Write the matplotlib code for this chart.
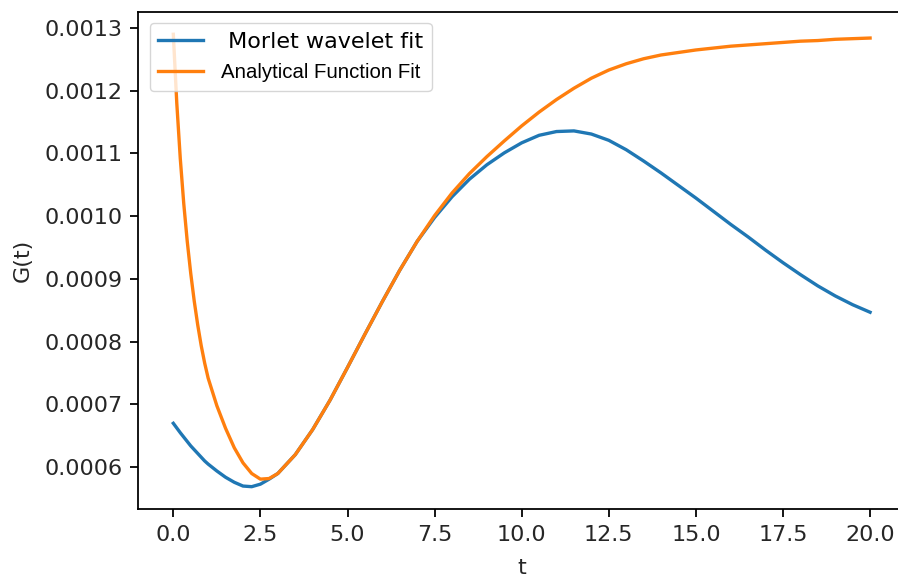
import matplotlib
matplotlib.use("Agg")
import matplotlib.pyplot as plt

# Sample times (denser near the sharp drop at the start)
t = [0.0, 0.1, 0.2, 0.3, 0.4, 0.5, 0.6, 0.7, 0.8, 0.9, 1.0,
     1.25, 1.5, 1.75, 2.0, 2.25, 2.5, 2.75, 3.0,
     3.5, 4.0, 4.5, 5.0, 5.5, 6.0, 6.5, 7.0, 7.5, 8.0, 8.5,
     9.0, 9.5, 10.0, 10.5, 11.0, 11.5, 12.0, 12.5, 13.0, 13.5, 14.0, 14.5,
     15.0, 15.5, 16.0, 16.5, 17.0, 17.5, 18.0, 18.5, 19.0, 19.5, 20.0]

# Morlet wavelet fit of G(t)
g_morlet = [0.000670, 0.0006625, 0.000655, 0.000648, 0.000641, 0.000634,
            0.000628, 0.000622, 0.000616, 0.000610, 0.000605,
            0.000594, 0.000584, 0.000576, 0.000570, 0.000569, 0.000573,
            0.000581, 0.000590,
            0.000620, 0.000660, 0.000707, 0.000759, 0.000812, 0.000864,
            0.000914, 0.000960, 0.000998, 0.001031, 0.001059,
            0.001082, 0.001101, 0.001117, 0.001129, 0.001135, 0.001136,
            0.001131, 0.001121, 0.001106, 0.001088, 0.001069, 0.001049,
            0.001029, 0.001008, 0.000987, 0.000967, 0.000946, 0.000926,
            0.000907, 0.000889, 0.000873, 0.000859, 0.000847]

# Analytical function fit of G(t)
g_analytic = [0.001290, 0.001180, 0.001092, 0.001020, 0.000960, 0.000909,
              0.000865, 0.000827, 0.000794, 0.000766, 0.000742,
              0.000698, 0.000662, 0.000631, 0.000607, 0.000590, 0.000581,
              0.000582, 0.000590,
              0.000620, 0.000660, 0.000707, 0.000759, 0.000812, 0.000864,
              0.000914, 0.000960, 0.001001, 0.001037, 0.001068,
              0.001095, 0.001120, 0.001144, 0.001166, 0.001186, 0.001204,
              0.001220, 0.001233, 0.001243, 0.001251, 0.001257, 0.001261,
              0.001265, 0.001268, 0.001271, 0.001273, 0.001275, 0.001277,
              0.001279, 0.001280, 0.001282, 0.001283, 0.001284]

labels = [" Morlet wavelet fit", "Analytical Function Fit"]

S = 1.6  # overall scale of text and lines
plt.rcParams.update({
    "font.size": 10 * S,
    "axes.linewidth": 0.8 * S,
    "xtick.major.size": 3.5 * S,
    "ytick.major.size": 3.5 * S,
    "xtick.major.width": 0.8 * S,
    "ytick.major.width": 0.8 * S,
    "xtick.major.pad": 3.5 * S,
    "ytick.major.pad": 3.5 * S,
    "axes.labelcolor": "#262626",
    "xtick.labelcolor": "#262626",
    "ytick.labelcolor": "#262626",
})

fig = plt.figure(figsize=(8.98, 5.80), dpi=100)
ax = fig.add_axes([0.1542, 0.1219, 0.8535, 0.858])

ax.plot(t, g_morlet, color="#1f77b4", lw=1.5 * S, label=labels[0])
ax.plot(t, g_analytic, color="#ff7f0e", lw=1.5 * S, label=labels[1])

ax.set_xticks([0.0, 2.5, 5.0, 7.5, 10.0, 12.5, 15.0, 17.5, 20.0])
ax.set_xlabel("t", labelpad=9.5)
ax.set_ylabel("G(t)", labelpad=8.6)

leg = ax.legend(loc="upper left")
leg.get_texts()[1].set_fontfamily(["Liberation Sans", "DejaVu Sans"])
leg.get_texts()[1].set_fontsize(14.7)

fig.savefig("out.png", dpi=100)
